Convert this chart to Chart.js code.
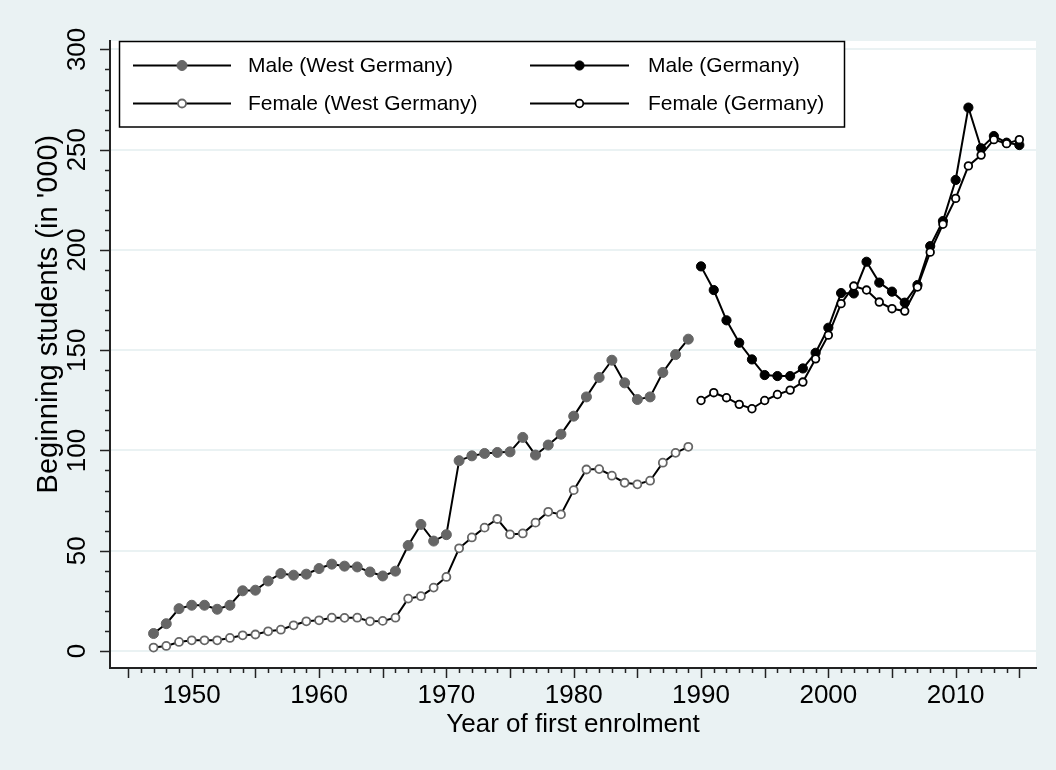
<!DOCTYPE html>
<html>
<head>
<meta charset="utf-8">
<script src="https://cdn.jsdelivr.net/npm/chart.js@4"></script>
<style>
  html, body { margin: 0; padding: 0; background: #eaf2f3; }
  #wrap { width: 1056px; height: 770px; position: relative; }
</style>
</head>
<body>
<div id="wrap"><canvas id="chart"></canvas></div>
<script>
// Years and values (in '000)
const yearsWest = [1947, 1948, 1949, 1950, 1951, 1952, 1953, 1954, 1955, 1956,
  1957, 1958, 1959, 1960, 1961, 1962, 1963, 1964, 1965, 1966,
  1967, 1968, 1969, 1970, 1971, 1972, 1973, 1974, 1975, 1976,
  1977, 1978, 1979, 1980, 1981, 1982, 1983, 1984, 1985, 1986,
  1987, 1988, 1989];
const maleWest = [8.7, 13.6, 21.1, 22.8, 22.8, 20.8, 22.8, 30.0, 30.3, 34.9,
  38.6, 37.8, 38.3, 41.1, 43.3, 42.3, 41.9, 39.4, 37.4, 39.8,
  52.6, 63.1, 54.8, 58.0, 94.9, 97.3, 98.5, 99.0, 99.3, 106.5,
  97.7, 102.7, 108.1, 117.1, 126.7, 136.4, 145.0, 133.7, 125.4, 126.7,
  138.9, 147.8, 155.5];
const femaleWest = [1.7, 2.5, 4.5, 5.3, 5.3, 5.3, 6.5, 7.8, 8.2, 9.8,
  10.6, 12.8, 14.8, 15.3, 16.6, 16.5, 16.6, 14.8, 15.0, 16.6,
  26.1, 27.3, 31.6, 36.9, 51.2, 56.6, 61.5, 65.8, 58.1, 58.6,
  64.0, 69.4, 68.1, 80.2, 90.5, 90.7, 87.4, 83.9, 83.1, 84.9,
  93.9, 98.8, 101.8];

const yearsGermany = [1990, 1991, 1992, 1993, 1994, 1995, 1996, 1997, 1998, 1999,
  2000, 2001, 2002, 2003, 2004, 2005, 2006, 2007, 2008, 2009,
  2010, 2011, 2012, 2013, 2014, 2015];
const maleGermany = [191.8, 180.0, 164.9, 153.7, 145.4, 137.6, 137.1, 137.1, 140.9, 148.7,
  161.2, 178.5, 178.3, 194.1, 183.7, 179.2, 173.7, 182.5, 201.9, 214.4,
  234.9, 271.0, 250.7, 256.8, 253.5, 252.3];
const femaleGermany = [124.9, 128.8, 126.3, 123.0, 120.8, 124.9, 127.9, 130.1, 134.1, 145.7,
  157.5, 173.2, 182.0, 180.0, 174.0, 170.7, 169.5, 181.5, 198.9, 212.8,
  225.7, 241.9, 247.3, 255.0, 253.0, 255.0];

// Axis labels
const xLabels = [1950, 1960, 1970, 1980, 1990, 2000, 2010];
const yLabels = [0, 50, 100, 150, 200, 250, 300];
const yTitle = "Beginning students (in '000)";

const FONT = "'Liberation Sans', Arial, Helvetica, sans-serif";
const GRAY = '#666666';
const GRID = '#eaf2f3';

Chart.defaults.font.family = FONT;
Chart.defaults.color = '#000';

function toPoints(xs, ys) {
  return xs.map((x, i) => ({ x: x, y: ys[i] }));
}

function series(label, xs, ys, fill, stroke, bw, r, order) {
  return {
    label: label,
    data: toPoints(xs, ys),
    borderColor: '#000',
    borderWidth: 2,
    tension: 0,
    pointRadius: r,
    pointBackgroundColor: fill,
    pointBorderColor: stroke,
    pointBorderWidth: bw,
    order: order
  };
}

// draw order follows Stata: later series on top
const datasets = [
  series('Male (West Germany)', yearsWest, maleWest, GRAY, GRAY, 1, 5, 3),
  series('Female (West Germany)', yearsWest, femaleWest, '#fff', GRAY, 1.8, 4, 2),
  series('Male (Germany)', yearsGermany, maleGermany, '#000', '#000', 1, 4.6, 1),
  series('Female (Germany)', yearsGermany, femaleGermany, '#fff', '#000', 1.8, 3.8, 0)
];

// white plot region
const plotBg = {
  id: 'plotBg',
  beforeDraw(chart) {
    const { ctx, chartArea: a } = chart;
    ctx.save();
    ctx.fillStyle = '#fff';
    ctx.fillRect(a.left, a.top, a.right - a.left, a.bottom - a.top);
    ctx.restore();
  }
};

// major/minor tick marks on both axes, plus the rotated y title
const tickMarks = {
  id: 'tickMarks',
  afterDraw(chart) {
    const { ctx, scales: { x, y }, chartArea: a } = chart;
    ctx.save();
    ctx.strokeStyle = '#222';
    ctx.lineWidth = 1.5;
    ctx.beginPath();
    for (let yr = 1945; yr <= 2015; yr++) {
      const px = Math.round(x.getPixelForValue(yr)) + 0.5;
      const len = yr % 5 === 0 ? 10 : 5;
      ctx.moveTo(px, a.bottom);
      ctx.lineTo(px, a.bottom + len);
    }
    for (let v = 0; v <= 300; v += 10) {
      const py = Math.round(y.getPixelForValue(v)) + 0.5;
      const len = v % 50 === 0 ? 10 : 5;
      ctx.moveTo(a.left, py);
      ctx.lineTo(a.left - len, py);
    }
    ctx.stroke();

    // y title sits a bit above the plot centre in the original
    ctx.translate(49, y.getPixelForValue(168));
    ctx.rotate(-Math.PI / 2);
    ctx.font = '29px ' + FONT;
    ctx.fillStyle = '#000';
    ctx.textAlign = 'center';
    ctx.textBaseline = 'middle';
    ctx.fillText(yTitle, 0, 0);
    ctx.restore();
  }
};

// boxed two-column legend inside the plot
const boxLegend = {
  id: 'boxLegend',
  afterDraw(chart) {
    const ctx = chart.ctx;
    const ds = chart.data.datasets;
    const items = [ds[0], ds[2], ds[1], ds[3]];
    const box = { x: 119.5, y: 41.5, w: 725, h: 85.5 };
    ctx.save();
    ctx.fillStyle = '#fff';
    ctx.fillRect(box.x, box.y, box.w, box.h);
    ctx.strokeStyle = '#000';
    ctx.lineWidth = 1.5;
    ctx.strokeRect(box.x, box.y, box.w, box.h);

    const cols = [{ l: 133, r: 231, t: 248 }, { l: 530, r: 629, t: 648 }];
    const rows = [65.5, 103.5];
    items.forEach((d, i) => {
      const c = cols[i % 2];
      const ry = rows[Math.floor(i / 2)];
      ctx.strokeStyle = d.borderColor;
      ctx.lineWidth = 2;
      ctx.beginPath();
      ctx.moveTo(c.l, ry);
      ctx.lineTo(c.r, ry);
      ctx.stroke();
      ctx.beginPath();
      ctx.arc((c.l + c.r) / 2, ry, d.pointRadius, 0, Math.PI * 2);
      ctx.fillStyle = d.pointBackgroundColor;
      ctx.fill();
      ctx.lineWidth = d.pointBorderWidth;
      ctx.strokeStyle = d.pointBorderColor;
      ctx.stroke();
      ctx.fillStyle = '#000';
      ctx.font = '21px ' + FONT;
      ctx.textAlign = 'left';
      ctx.textBaseline = 'middle';
      ctx.fillText(d.label, c.t, ry + 1);
    });
    ctx.restore();
  }
};

new Chart(document.getElementById('chart'), {
  type: 'line',
  data: { datasets: datasets },
  plugins: [plotBg, tickMarks, boxLegend],
  options: {
    responsive: true,
    maintainAspectRatio: false,
    animation: false,
    events: [],
    layout: { padding: { top: 41, right: 20, left: 0, bottom: 0 } },
    plugins: {
      legend: { display: false },
      tooltip: { enabled: false }
    },
    scales: {
      x: {
        type: 'linear',
        min: 1943.58,
        max: 2016.31,
        afterBuildTicks: s => { s.ticks = xLabels.map(v => ({ value: v })); },
        afterFit: s => { s.height = 102; },
        grid: { display: false, drawTicks: false },
        border: { display: true, color: '#222', width: 2 },
        ticks: {
          font: { size: 26 },
          color: '#000',
          padding: 12.4,
          maxRotation: 0,
          autoSkip: false,
          callback: v => String(v)
        },
        title: {
          display: true,
          text: 'Year of first enrolment',
          font: { size: 26 },
          color: '#000',
          padding: { top: 0, bottom: 29.8 }
        }
      },
      y: {
        type: 'linear',
        min: -8.5,
        max: 304.2,
        afterBuildTicks: s => { s.ticks = yLabels.map(v => ({ value: v })); },
        afterFit: s => { s.width = 110; },
        grid: { color: GRID, lineWidth: 2, drawTicks: false },
        border: { display: true, color: '#222', width: 2 },
        ticks: {
          font: { size: 26 },
          color: '#000',
          minRotation: 90,
          maxRotation: 90,
          crossAlign: 'center',
          padding: 10.3,
          autoSkip: false,
          callback: v => String(v)
        },
        title: { display: false }
      }
    }
  }
});
</script>
</body>
</html>
